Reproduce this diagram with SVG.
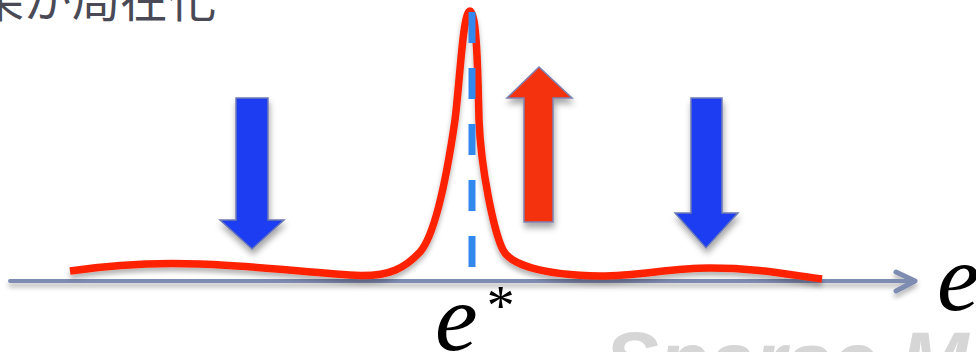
<svg xmlns="http://www.w3.org/2000/svg" width="976" height="352" viewBox="0 0 976 352">
  <defs>
    <filter id="shadow" x="-30%" y="-30%" width="160%" height="160%">
      <feDropShadow dx="1" dy="5" stdDeviation="3" flood-color="#000" flood-opacity="0.35"/>
    </filter>
    <filter id="lshadow" x="-5%" y="-50%" width="110%" height="200%">
      <feDropShadow dx="0" dy="4" stdDeviation="2.5" flood-color="#000" flood-opacity="0.3"/>
    </filter>
    <style>
      .axis{fill:none;stroke:#7f8cb2;stroke-width:4;stroke-linecap:round;stroke-linejoin:round}
      .curve{fill:none;stroke:#ff2200;stroke-width:7.5;stroke-linejoin:round}
      .dash{fill:none;stroke:#3388ee;stroke-width:7;stroke-dasharray:31 25}
      .down{fill:#1b3ef2;stroke:#6f7bb5;stroke-width:1.5}
      .up{fill:#f4330f;stroke:#7f80b0;stroke-width:1.5}
      .math{font-family:"Liberation Serif","DejaVu Serif",serif;font-style:italic;fill:#000}
      .title{font-family:"Noto Sans CJK JP","Noto Sans",sans-serif;font-size:48px;fill:#4a4a57}
      .wm{font-family:"Liberation Sans",Arial,sans-serif;font-weight:bold;font-style:italic;font-size:82px;fill:#d6d6d6}
    </style>
  </defs>
  <rect width="976" height="352" fill="#fff"/>
  <text class="wm" x="604" y="389">Sparse Modeling</text>
  <text class="title" x="216" y="17" text-anchor="end">果が局在化</text>
  <g id="connectors">
    <g id="axis" filter="url(#lshadow)">
      <line class="axis" x1="10" y1="281" x2="913" y2="281"/>
      <polyline class="axis" points="896,272 915,281 896,291" style="stroke-width:5"/>
    </g>
    <path id="curve" class="curve" filter="url(#lshadow)" d="M70,271 C110,265 150,262 200,264 C260,266 320,274 360,275.5 C390,276 405,268 420,252 C435,235 447,175 455,120 C460,80 463,11 470,11 C477,11 478,80 479,120 C481,170 494,232 503,250 C510,264 540,275 600,276 C640,276 670,268 710,268 C760,268 790,275 822,279"/>
    <line id="estar-line" class="dash" x1="472" y1="12" x2="472" y2="268"/>
  </g>
  <g id="arrow-left" filter="url(#shadow)">
    <polygon class="down" points="236,98 268,98 268,220 284,220 252,249 220,220 236,220"/>
  </g>
  <g id="arrow-center" filter="url(#shadow)">
    <polygon class="up" points="539,67 572,98 553,98 553,222 524,222 524,98 507,98"/>
  </g>
  <g id="arrow-right" filter="url(#shadow)">
    <polygon class="down" points="691,98 722,98 722,213 738,213 706,248 675,213 691,213"/>
  </g>
  <g id="label-e">
    <text class="math" x="937" y="310" font-size="96">e</text>
  </g>
  <g id="label-estar">
    <text class="math" x="435" y="350" font-size="96">e</text>
    <text class="math" x="484" y="325" font-size="56" font-style="normal">*</text>
  </g>
</svg>
